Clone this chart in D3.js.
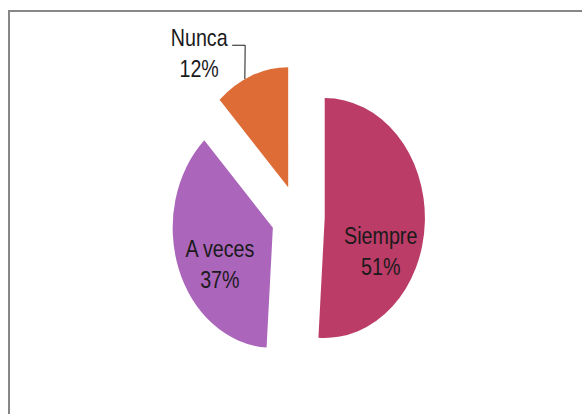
<!DOCTYPE html>
<html>
<head>
<meta charset="utf-8">
<script src="https://cdn.jsdelivr.net/npm/d3@7"></script>
<style>
  html, body { margin: 0; padding: 0; background: #fff; }
  svg { display: block; }
</style>
</head>
<body>
<svg id="chart" width="582" height="414"></svg>
<script>
// ---- data ----
const categories = ["Siempre", "A veces", "Nunca"];
const values = [51, 37, 12];
const percentLabels = ["51%", "37%", "12%"];
const colors = ["#BA3C67", "#AB65BA", "#DE6C37"];

// ---- layout ----
const W = 582, H = 414;
const cx0 = 298, cy0 = 217;    // pie center before explosion
const R = 120;                 // vertical radius
const sx = 0.835;              // horizontal squash (ellipse)
const explode = 32;
const font = "'Liberation Sans', Arial, sans-serif";
const textSx = 0.82;           // condensed look for the labels

const svg = d3.select("#chart");

// chart area border (extends past right/bottom edges)
svg.append("rect")
  .attr("x", 9).attr("y", 11)
  .attr("width", W + 20).attr("height", H + 20)
  .attr("fill", "#fff")
  .attr("stroke", "#878787")
  .attr("stroke-width", 2);

const pie = d3.pie().sort(null).value(d => d.value);
const arcs = pie(categories.map((c, i) => ({ cat: c, value: values[i], pct: percentLabels[i], color: colors[i] })));
const arc = d3.arc().innerRadius(0).outerRadius(R);

function sliceCenter(a) {
  const mid = (a.startAngle + a.endAngle) / 2;
  return [cx0 + explode * Math.sin(mid) * sx, cy0 - explode * Math.cos(mid)];
}

const slices = svg.append("g");
arcs.forEach(a => {
  const [x, y] = sliceCenter(a);
  slices.append("path")
    .attr("transform", `translate(${x},${y}) scale(${sx},1)`)
    .attr("d", arc(a))
    .attr("fill", a.data.color);
});

// label offsets relative to each slice's center (first line baseline)
const labelOffsets = {
  "Siempre": [56, 26],
  "A veces": [-53, 29],
  "Nunca": [-89, -141]
};

arcs.forEach(a => {
  const [x, y] = sliceCenter(a);
  const [dx, dy] = labelOffsets[a.data.cat];
  const g = svg.append("g")
    .attr("transform", `translate(${x + dx},${y + dy}) scale(${textSx},1)`);
  const t = g.append("text")
    .attr("text-anchor", "middle")
    .attr("font-family", font)
    .attr("font-size", 24)
    .attr("fill", "#1a1a1a");
  t.append("tspan").attr("x", 0).attr("y", 0).text(a.data.cat);
  t.append("tspan").attr("x", 0).attr("y", 31).text(a.data.pct);

  if (a.data.cat === "Nunca") {
    // leader line from label to slice edge
    const mid = (a.startAngle + a.endAngle) / 2;
    const ex = x + R * Math.sin(mid - 0.07) * sx;
    const ey = y - R * Math.cos(mid - 0.07);
    const lx = x + dx + 33, ly = y + dy - 1;
    svg.append("path")
      .attr("d", d3.line()([[lx, ly], [lx + 13, ly], [ex, ey]]))
      .attr("fill", "none")
      .attr("stroke", "#1a1a1a")
      .attr("stroke-width", 1);
  }
});
</script>
</body>
</html>
